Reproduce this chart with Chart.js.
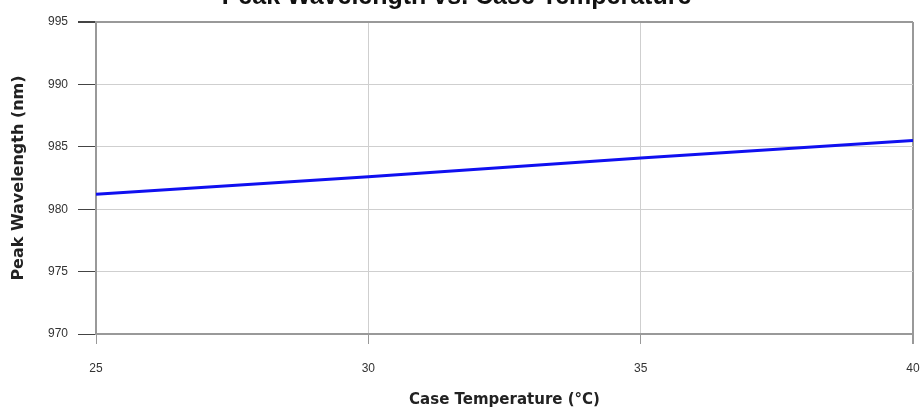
<!DOCTYPE html>
<html>
<head>
<meta charset="utf-8">
<script src="https://cdn.jsdelivr.net/npm/chart.js@4.4.0/dist/chart.umd.min.js"></script>
<style>
  html, body { margin: 0; padding: 0; background: #fff; overflow: hidden; }
  #wrap { position: relative; width: 924px; height: 415px; overflow: hidden; }
  #box { position: absolute; left: 0; top: -21px; width: 924px; height: 436px; }
</style>
</head>
<body>
<div id="wrap"><div id="box"><canvas id="chart"></canvas></div></div>
<script>
// case temperature (deg C) and peak wavelength (nm)
const temps = [25, 30, 35, 40];
const wavelength = [981.2, 982.6, 984.1, 985.5];
const xTicks = [25, 30, 35, 40];
const yTicks = [970, 975, 980, 985, 990, 995];

const tickFont = { family: "'Liberation Sans Narrow', 'Arial Narrow', 'Liberation Sans', sans-serif", size: 12 };
const axisTitleFont = { family: "'DejaVu Sans', 'Liberation Sans', sans-serif", size: 15, weight: 'bold' };

new Chart(document.getElementById('chart'), {
    type: 'line',
    data: {
        datasets: [{
            data: temps.map((t, i) => ({ x: t, y: wavelength[i] })),
            borderColor: '#1010f0',
            borderWidth: 3,
            pointRadius: 0,
            tension: 0,
            fill: false
        }]
    },
    options: {
        responsive: true,
        maintainAspectRatio: false,
        animation: false,
        layout: { padding: { top: 3, right: 11, bottom: 0, left: 0 } },
        plugins: {
            legend: { display: false },
            tooltip: { enabled: false },
            title: {
                display: true,
                text: 'Peak Wavelength vs. Case Temperature',
                color: '#111',
                font: { family: "'Liberation Sans', Arial, sans-serif", size: 25, weight: 'bold' },
                padding: { top: 0, bottom: 10 }
            }
        },
        scales: {
            x: {
                type: 'linear',
                min: 25,
                max: 40,
                afterBuildTicks: axis => { axis.ticks = xTicks.map(v => ({ value: v })); },
                afterFit: axis => {
                    axis.height = 81;
                    axis.paddingLeft = 0;
                    axis.paddingRight = 0;
                },
                ticks: { color: '#333', font: tickFont, padding: 17 },
                grid: {
                    color: ctx => (ctx.tick && ctx.tick.value === 40) ? '#999' : '#cfcfcf',
                    lineWidth: ctx => (ctx.tick && ctx.tick.value === 40) ? 2 : 1,
                    tickLength: 10,
                    tickColor: '#999'
                },
                border: { color: '#999', width: 2 },
                title: {
                    display: true,
                    text: 'Case Temperature (°C)',
                    color: '#222',
                    font: axisTitleFont,
                    padding: { top: 0, bottom: 6 }
                }
            },
            y: {
                min: 970,
                max: 995,
                afterBuildTicks: axis => { axis.ticks = yTicks.map(v => ({ value: v })); },
                afterFit: axis => {
                    axis.width = 96;
                    axis.paddingTop = 0;
                    axis.paddingBottom = 0;
                },
                ticks: { color: '#333', font: tickFont, padding: 10 },
                grid: {
                    color: ctx => (ctx.tick && ctx.tick.value === 995) ? '#999' : '#cfcfcf',
                    lineWidth: ctx => (ctx.tick && ctx.tick.value === 995) ? 2 : 1,
                    tickLength: 18,
                    tickColor: '#444'
                },
                border: { color: '#999', width: 2 },
                title: {
                    display: true,
                    text: 'Peak Wavelength (nm)',
                    color: '#222',
                    font: { ...axisTitleFont, size: 16 },
                    padding: { top: 9, bottom: 0 }
                }
            }
        }
    }
});
</script>
</body>
</html>
